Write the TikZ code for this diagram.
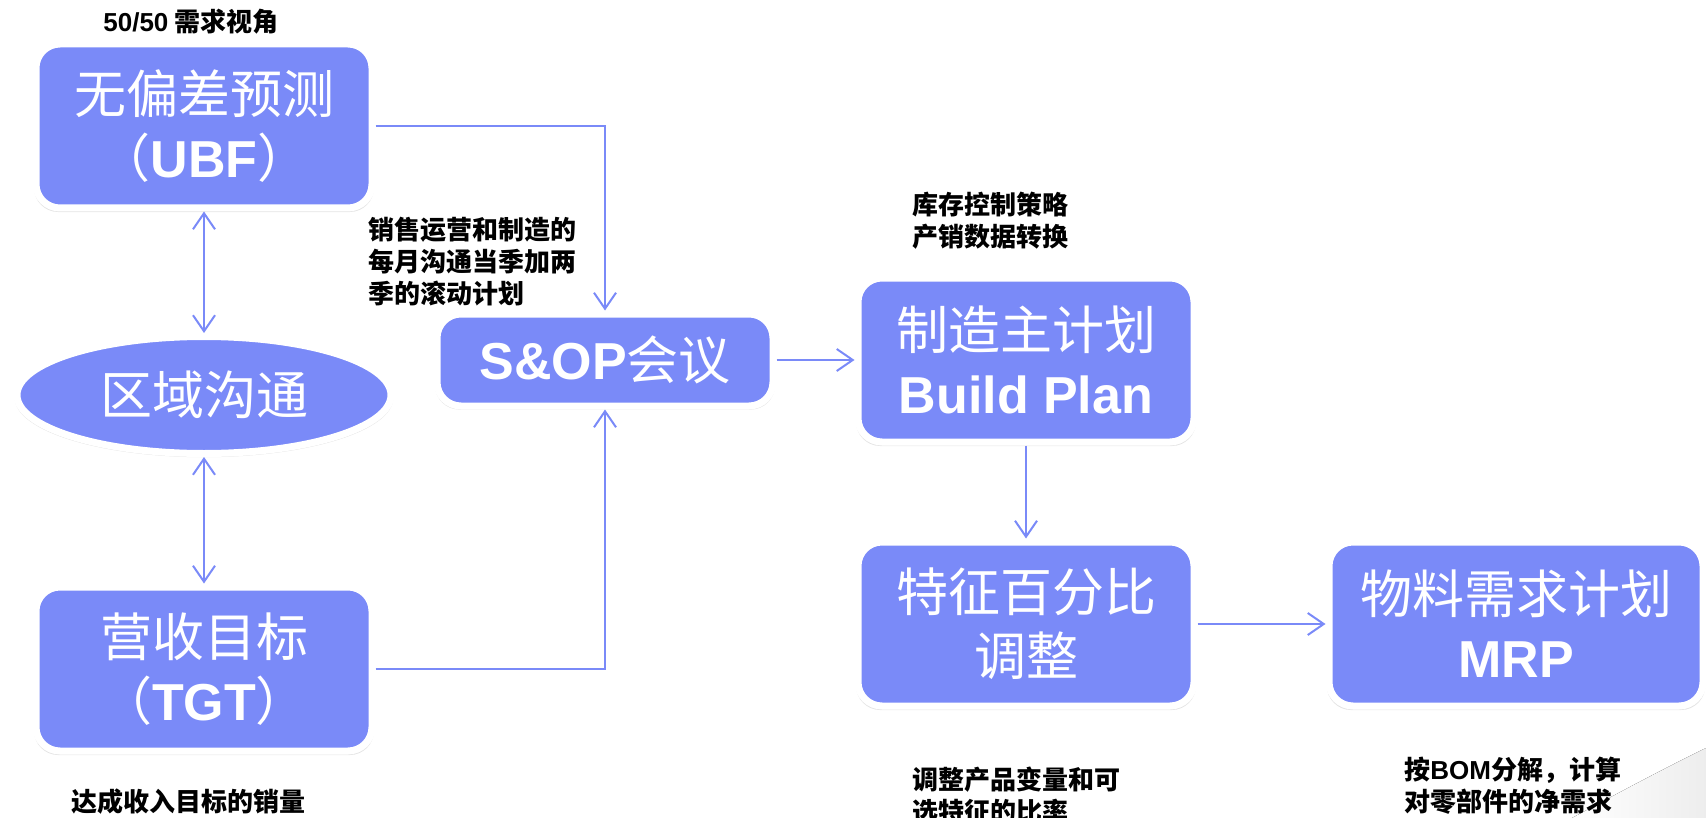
\documentclass[tikz,border=0pt]{standalone}
\usepackage{fontspec}
\setmainfont{Liberation Sans}
\newfontfamily\cjk{Noto Sans CJK SC}
\usepackage{tikz}
\usetikzlibrary{arrows.meta, positioning, shapes.geometric, shadows}
\definecolor{planblue}{RGB}{122,138,248}

\begin{document}
\begin{tikzpicture}[x=0.5pt, y=-0.5pt,
    plan box/.style={rectangle, rounded corners=12pt, fill=planblue, draw=white, line width=3.5pt,
        minimum width=168pt, minimum height=82pt, text=white, align=center, inner sep=0pt,
        font=\fontsize{26}{32}\selectfont,
        drop shadow={shadow xshift=0pt, shadow yshift=-1.5pt, shadow scale=1.012, opacity=0.22}},
    talk oval/.style={ellipse, fill=planblue, draw=white, line width=3.5pt,
        minimum width=187pt, minimum height=58.5pt, text=white, inner sep=0pt,
        font=\fontsize{26}{32}\selectfont,
        drop shadow={shadow xshift=0pt, shadow yshift=-1.5pt, shadow scale=1.012, opacity=0.22}},
    side note/.style={anchor=west, align=left, inner sep=0pt, font=\fontsize{13}{16}\selectfont\bfseries\cjk},
    >={Straight Barb[length=8pt, width=11pt]},
    flow/.style={draw=planblue, line width=1pt, ->}]

    \useasboundingbox (0,0) rectangle (1706,818);

    \fill[left color=white, right color=black!7]
        (1572,818) .. controls (1620,792) and (1665,768) .. (1706,748) -- (1706,818) -- cycle;

    \node[plan box] (ubf) at (204,126) {{\cjk 无偏差预测}\\{\cjk （}\textbf{UBF}{\cjk ）}};
    \node[talk oval] (region) at (204,395) {\cjk 区域沟通};
    \node[plan box] (tgt) at (204,669) {{\cjk 营收目标}\\{\cjk （}\textbf{TGT}{\cjk ）}};
    \node[plan box, minimum height=46pt] (sop) at (605,360) {\textbf{S\&OP}{\cjk 会议}};
    \node[plan box] (build) at (1026,360) {{\cjk 制造主计划}\\\textbf{Build Plan}};
    \node[plan box] (feature) at (1026,624) {{\cjk 特征百分比}\\{\cjk 调整}};
    \node[plan box, minimum width=187pt] (mrp) at (1516,624) {{\cjk 物料需求计划}\\\textbf{MRP}};

    \node[side note] (view) at (103,22) {{\rmfamily 50/50} 需求视角};
    \node[side note] (monthly) at (368,262) {销售运营和制造的\\每月沟通当季加两\\季的滚动计划};
    \node[side note] (stock) at (912,221) {库存控制策略\\产销数据转换};
    \node[side note] (mix) at (912,796) {调整产品变量和可\\选特征的比率};
    \node[side note] (bom) at (1404,786) {按{\rmfamily BOM}分解，计算\\对零部件的净需求};
    \node[side note] (sales) at (71,802) {达成收入目标的销量};

    \draw[flow, <->] (ubf) -- (region);
    \draw[flow, <->] (region) -- (tgt);
    \draw[flow] (ubf.east) -| (sop.north);
    \draw[flow] (tgt.east) -| (sop.south);
    \draw[flow] (sop) -- (build);
    \draw[flow] (build) -- (feature);
    \draw[flow] (feature) -- (mrp);
\end{tikzpicture}
\end{document}
